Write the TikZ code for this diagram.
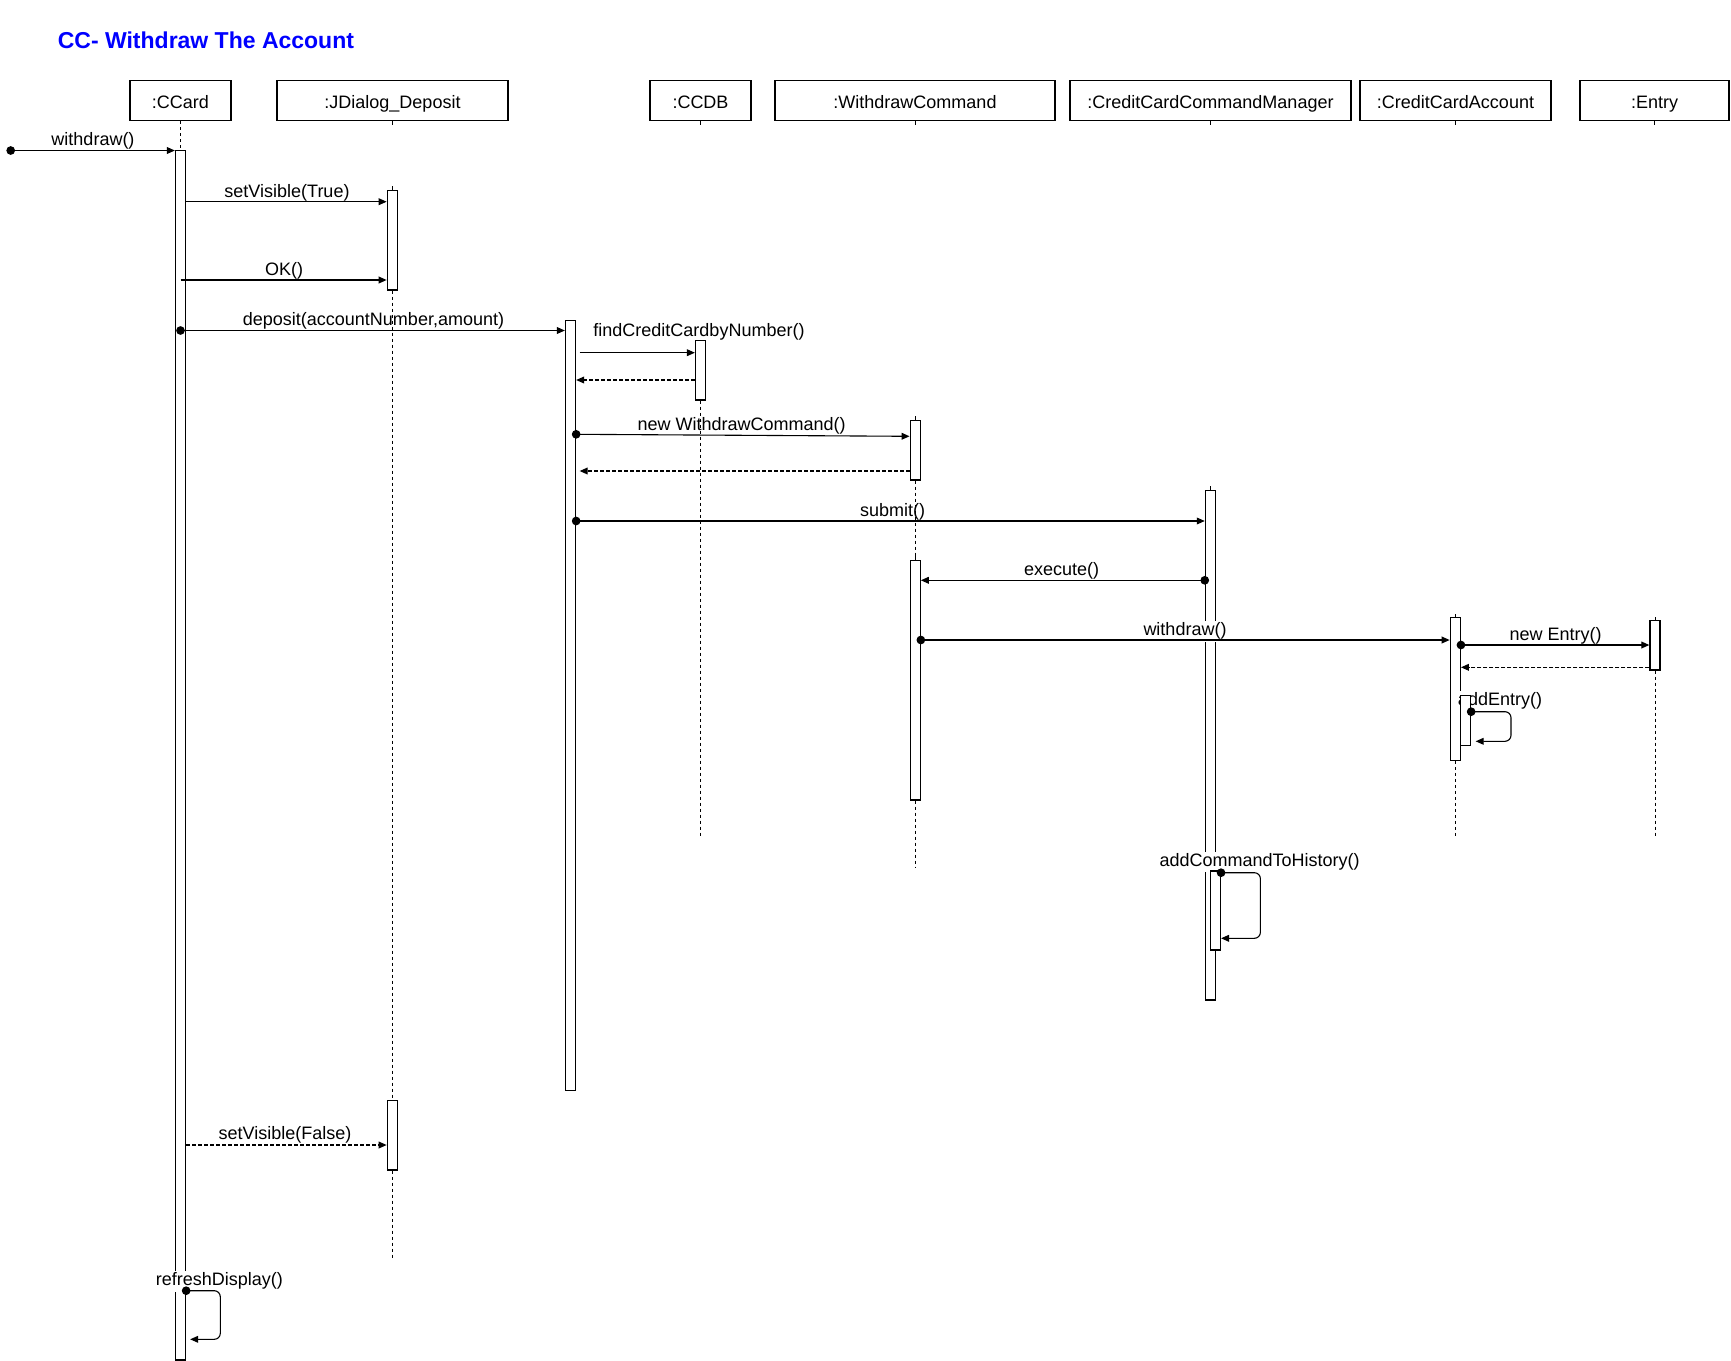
\documentclass[tikz,border=0pt]{standalone}
\usepackage{fontspec}
\setmainfont{Liberation Sans}
\usetikzlibrary{arrows.meta}
\usetikzlibrary{calc}

\definecolor{titleblue}{RGB}{0,0,255}
\newcommand{\lblfont}{\fontsize{9}{10.8}\selectfont}

\tikzset{
  head/.style={draw, line width=0.65pt, minimum height=19.85pt, inner sep=0pt, text height=8pt, text depth=0.2pt, font=\lblfont},
  actbar/.style={draw, fill=white, line width=0.65pt, minimum width=5pt, inner sep=0pt},
  life/.style={line width=0.5pt, dash pattern=on 1.5pt off 1.5pt},
  tick/.style={line width=0.5pt},
  msg/.style={line width=0.55pt, -{Triangle[length=4pt,width=3.4pt]}},
  dotmsg/.style={msg, {Circle[length=4.3pt]}-{Triangle[length=4pt,width=3.4pt]}, shorten <=-2.15pt},
  ret/.style={msg, dash pattern=on 2pt off 1pt},
  lbl/.style={inner sep=0pt, yshift=-1pt, font=\lblfont},
  cover/.style={lbl, fill=white, inner sep=1pt},
}

\begin{document}
\begin{tikzpicture}[x=0.5pt,y=-0.5pt]
    \useasboundingbox (0,0) rectangle (1731,1361);

    \node[anchor=west, inner sep=0pt, text=titleblue, font=\bfseries\fontsize{11.5}{13.8}\selectfont] (title) at (57.4,40) {CC- Withdraw The Account};

    %Lifeline heads
    \node[head, minimum width=50.5pt] (ccHead) at (180.5,100.5) {:CCard};
    \node[head, minimum width=115.5pt] (jdHead) at (392.5,100.5) {:JDialog\_Deposit};
    \node[head, minimum width=50.5pt] (dbHead) at (700.5,100.5) {:CCDB};
    \node[head, minimum width=140pt] (wcHead) at (915,100.5) {:WithdrawCommand};
    \node[head, minimum width=140.5pt] (mgrHead) at (1210.5,100.5) {:CreditCardCommandManager};
    \node[head, minimum width=95.5pt] (accHead) at (1455.5,100.5) {:CreditCardAccount};
    \node[head, minimum width=74.5pt] (entHead) at (1654.5,100.5) {:Entry};

    %Activation bars
    \node[actbar, minimum height=604.75pt] (ccBar) at (180.5,755.25) {};
    \node[actbar, minimum height=49.75pt] (jdBar1) at (392.3,240.25) {};
    \node[actbar, minimum height=34.85pt] (jdBar2) at (392.3,1135.15) {};
    \node[actbar, minimum height=385pt] (depBar) at (570.5,705.5) {};
    \node[actbar, minimum height=29.75pt] (dbBar) at (700.5,370.25) {};
    \node[actbar, minimum height=29.85pt] (wcBar1) at (915.2,450.15) {};
    \node[actbar, minimum height=119.85pt] (wcBar2) at (915.2,680.15) {};
    \node[actbar, minimum height=254.85pt] (mgrBar) at (1210.4,745.15) {};
    \node[actbar, minimum height=71.3pt] (accBar) at (1455.3,689) {};
    \node[actbar, minimum height=24.65pt] (entBar) at (1655,645.35) {};

    %Lifelines
    \draw[life] (ccHead.south) -- (ccBar.north);
    \draw[life] (jdBar1.south) -- (jdBar2.north);
    \draw[life] (jdBar2.south) -- ++(0,87.3);
    \draw[life] (dbBar.south) -- ++(0,437);
    \draw[life] (wcBar1.south) -- (wcBar2.north);
    \draw[life] (wcBar2.south) -- ++(0,67);
    \draw[life] (accBar.south) -- ++(0,76.7);
    \draw[life] (entBar.south) -- ++(0,167);
    \foreach \n in {jdHead,dbHead,wcHead,mgrHead,accHead,entHead}
        \draw[tick] (\n.south) -- ++(0,3.5);
    \foreach \n in {jdBar1,wcBar1,wcBar2,mgrBar,accBar,entBar}
        \draw[tick] (\n.north) -- ++(0,-3.5);

    \node[cover] (lWithdrawAcc) at (1185,629.3) {withdraw()};
    \node[cover] (lAddEntry) at (1500,699.3) {addEntry()};
    \node[cover] (lAddHistory) at (1259.6,860) {addCommandToHistory()};
    \node[cover] (lRefresh) at (219.3,1279.3) {refreshDisplay()};

    %Messages
    \coordinate (start) at (10.7,150.5);
    \draw[dotmsg] (start) -- (ccBar.west |- start);
    \draw[msg] (ccBar.east |- 0,201.7) -- (jdBar1.west |- 0,201.7);
    \draw[msg] (ccBar.center |- 0,280) -- (jdBar1.west |- 0,280);
    \draw[dotmsg] (ccBar.center |- 0,330.5) -- (depBar.west |- 0,330.5);
    \draw[msg] ($(depBar.east |- 0,352.7)+(3.5,0)$) -- (dbBar.west |- 0,352.7);
    \draw[ret] (dbBar.west |- 0,380) -- (depBar.east |- 0,380);
    \draw[dotmsg] (depBar.east |- 0,434.3) -- (wcBar1.west |- 0,436.3);
    \draw[ret] (wcBar1.west |- 0,471) -- ($(depBar.east |- 0,471)+(3.5,0)$);
    \draw[dotmsg] (depBar.east |- 0,521) -- (mgrBar.west |- 0,521);
    \draw[dotmsg] (mgrBar.west |- 0,580.3) -- (wcBar2.east |- 0,580.3);
    \draw[dotmsg] (wcBar2.east |- 0,640) -- (accBar.west |- 0,640);
    \draw[dotmsg] (accBar.east |- 0,645) -- (entBar.west |- 0,645);
    \draw[ret] (entBar.west |- 0,667.3) -- (accBar.east |- 0,667.3);
    \draw[ret] (ccBar.east |- 0,1145) -- (jdBar2.west |- 0,1145);

    \node[lbl] (lWithdraw) at (93,139) {withdraw()};
    \node[lbl] (lShow) at (287,190.7) {setVisible(True)};
    \node[lbl] (lOk) at (284,269) {OK()};
    \node[lbl] (lDeposit) at (373.5,319) {deposit(accountNumber,amount)};
    \node[lbl] (lFind) at (699,330) {findCreditCardbyNumber()};
    \node[lbl] (lNewCmd) at (741.7,424) {new WithdrawCommand()};
    \node[lbl] (lSubmit) at (892.6,510) {submit()};
    \node[lbl] (lExecute) at (1061.6,568.7) {execute()};
    \node[lbl] (lNewEntry) at (1555.7,634.3) {new Entry()};
    \node[lbl] (lHide) at (285,1132.7) {setVisible(False)};

    %Self calls
    \node[actbar, minimum height=24.8pt] (accBar2) at (1465.5,720.5) {};
    \node[actbar, minimum height=39.5pt] (mgrBar2) at (1215.4,910.5) {};
    \draw[dotmsg, rounded corners=3pt] (accBar2.east |- 0,711.7) -- (1511,711.7) -- (1511,741.3) -- ($(accBar2.east |- 0,741.3)+(4.5,0)$);
    \draw[dotmsg, rounded corners=3pt] (mgrBar2.east |- 0,872.7) -- (1260.4,872.7) -- (1260.4,938.3) -- (mgrBar2.east |- 0,938.3);
    \draw[dotmsg, rounded corners=3pt] (ccBar.east |- 0,1290.7) -- (220.3,1290.7) -- (220.3,1339.3) -- ($(ccBar.east |- 0,1339.3)+(4,0)$);

\end{tikzpicture}
\end{document}
